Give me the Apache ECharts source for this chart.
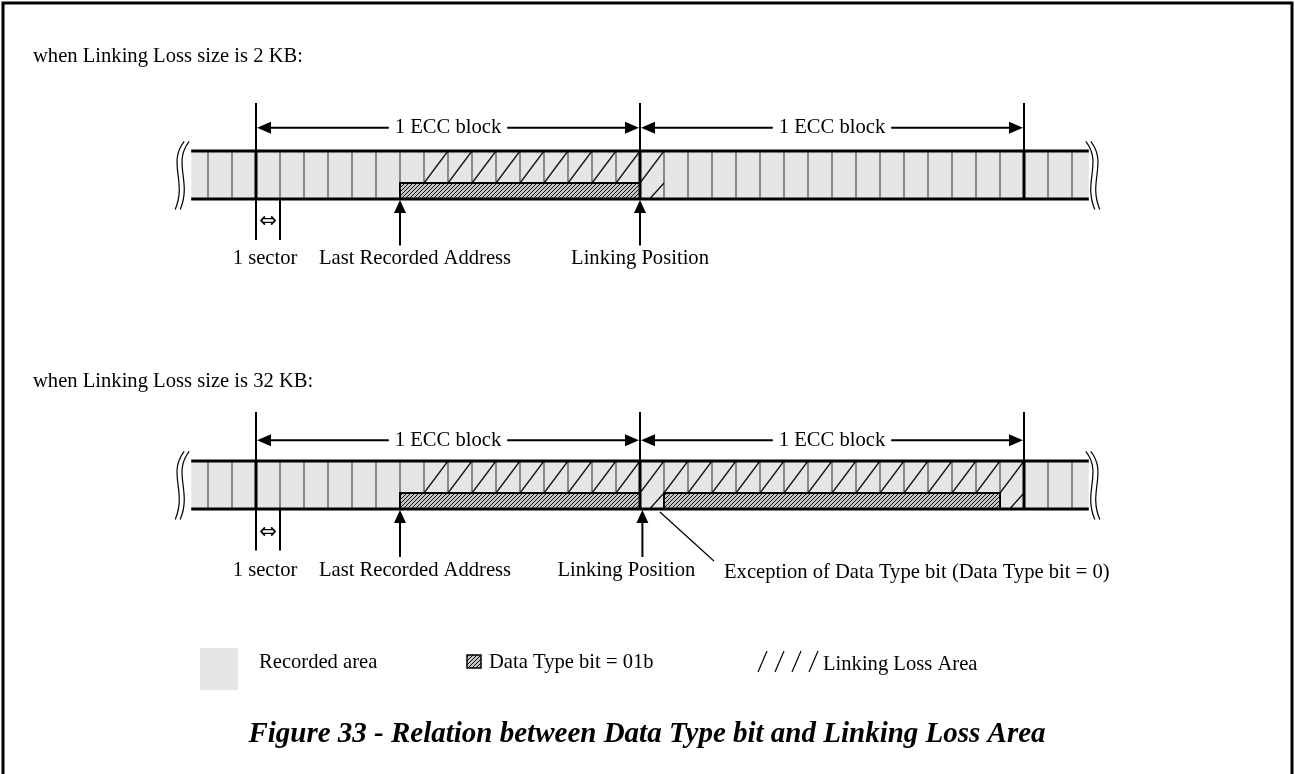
<!DOCTYPE html>
<html><head><meta charset="utf-8">
<script src="https://cdn.jsdelivr.net/npm/echarts@6/dist/echarts.min.js"></script>
<style>html,body{margin:0;padding:0;background:#fff}#c{width:1295px;height:774px}</style>
</head><body><div id="c"></div>
<script>
// ---------- DATA (x in sectors, 0 = first ECC block boundary; y in thirds of the strip height, 0 = strip bottom)
const titles = ['when Linking Loss size is 2 KB:', 'when Linking Loss size is 32 KB:'];
const stripExtent = [-2.7, 34.7];
const sectorLines = [-2,-1,1,2,3,4,5,6,7,8,9,10,11,12,13,14,15,17,18,19,20,21,22,23,24,25,26,27,28,29,30,31,33,34];
const eccBoundaries = [0,16,32];
const eccBlocks = [[0,16],[16,32]];
const eccBlockLabels = ['1 ECC block','1 ECC block'];
const dataTypeBars1 = [[6,16]];
const dataTypeBars2 = [[6,16],[17,31]];
const linkingUpper1 = [7,8,9,10,11,12,13,14,15];
const linkingFull1 = [16];
const linkingUpper2 = [7,8,9,10,11,12,13,14,15,17,18,19,20,21,22,23,24,25,26,27,28,29,30];
const linkingFull2 = [16,31];
const pointerX1 = [6,16];
const pointerX2 = [6,16.1];
const pointerLabels = ['Last Recorded Address','Linking Position'];
const sectorMark = [[0,1]];
const sectorMarkLabel = '1 sector';
const exceptionNote = 'Exception of Data Type bit (Data Type bit = 0)';
const legendLabels = ['Recorded area','Data Type bit = 01b','Linking Loss Area'];
const caption = 'Figure 33 - Relation between Data Type bit and Linking Loss Area';

// ---------- LAYOUT / STYLE
const FONT = 'Liberation Serif';
const FS = 20.6;
const layout = [
  {top:151, dimY:4.45, dimTop:6.0, ptrEnd:-2.9, labelY:-3.7, markEnd:-2.56, markArrowY:-1.44, titleY:57, ptrLabelDx:[15,0]},
  {top:461, dimY:4.3, dimTop:6.06, ptrEnd:-3.0, labelY:-3.85, markEnd:-2.6, markArrowY:-1.5, titleY:382, ptrLabelDx:[15,-16]}
];
const diagrams = [
  {bars:dataTypeBars1, upper:linkingUpper1, full:linkingFull1, ptr:pointerX1},
  {bars:dataTypeBars2, upper:linkingUpper2, full:linkingFull2, ptr:pointerX2}
];

function makeHatch(){
  const c=document.createElement('canvas'); c.width=4; c.height=4;
  const g=c.getContext('2d');
  g.fillStyle='#c4c4c4'; g.fillRect(0,0,4,4);
  g.strokeStyle='#111'; g.lineWidth=1;
  g.beginPath(); g.moveTo(0,4); g.lineTo(4,0); g.moveTo(-1,1); g.lineTo(1,-1); g.moveTo(3,5); g.lineTo(5,3); g.stroke();
  return c;
}
const hatch = {image: makeHatch(), repeat:'repeat'};

function L(p1,p2,w,c){return {type:'line',shape:{x1:p1[0],y1:p1[1],x2:p2[0],y2:p2[1]},style:{stroke:c||'#000',lineWidth:w}};}
function T(text,x,y,opt){return {type:'text',style:Object.assign({text:text,x:x,y:y,fontFamily:FONT,fontSize:FS,fill:'#000',align:'center',verticalAlign:'middle'},opt||{})};}

function cs(d, data, render){
  return {type:'custom', coordinateSystem:'cartesian2d', xAxisIndex:d, yAxisIndex:d, clip:false, silent:true, animation:false, data:data, renderItem:render};
}

const series = [];
diagrams.forEach((D,d)=>{
  const Ly = layout[d];
  series.push(cs(d,[stripExtent],(p,api)=>{
    const a=api.coord([api.value(0),3]), b=api.coord([api.value(1),0]);
    return {type:'rect',shape:{x:a[0],y:a[1],width:b[0]-a[0],height:b[1]-a[1]},style:{fill:'#e6e6e6'}};
  }));
  series.push(cs(d,sectorLines.map(v=>[v]),(p,api)=>{
    const x=api.value(0); return L(api.coord([x,0]),api.coord([x,3]),2,'#888');
  }));
  series.push(cs(d,D.upper.map(v=>[v]),(p,api)=>{
    const s=api.value(0); return L(api.coord([s,1]),api.coord([s+1,3]),1.3,'#111');
  }));
  series.push(cs(d,D.full.map(v=>[v]),(p,api)=>{
    const s=api.value(0);
    return {type:'group',children:[L(api.coord([s,1]),api.coord([s+1,3]),1.3,'#111'),L(api.coord([s+0.4,0]),api.coord([s+1,1]),1.3,'#111')]};
  }));
  series.push(cs(d,D.bars,(p,api)=>{
    const a=api.coord([api.value(0),1]), b=api.coord([api.value(1),0]);
    return {type:'rect',shape:{x:a[0],y:a[1],width:b[0]-a[0],height:b[1]-a[1]},style:{fill:hatch,stroke:'#000',lineWidth:2}};
  }));
  series.push(cs(d,[stripExtent],(p,api)=>{
    const x0=api.value(0), x1=api.value(1);
    return {type:'group',children:[L(api.coord([x0,3]),api.coord([x1,3]),3),L(api.coord([x0,0]),api.coord([x1,0]),3)]};
  }));
  series.push(cs(d,eccBoundaries.map(v=>[v]),(p,api)=>{
    const x=api.value(0);
    return {type:'group',children:[L(api.coord([x,-0.05]),api.coord([x,3.05]),3),L(api.coord([x,3]),api.coord([x,Ly.dimTop]),2)]};
  }));
  series.push(cs(d,eccBlocks,(p,api)=>{
    const a=api.coord([api.value(0),Ly.dimY]), b=api.coord([api.value(1),Ly.dimY]);
    const m=(a[0]+b[0])/2, y=a[1];
    return {type:'group',children:[
      L([a[0]+12,y],[b[0]-12,y],2),
      {type:'polygon',shape:{points:[[a[0]+1,y],[a[0]+15,y-6],[a[0]+15,y+6]]},style:{fill:'#000'}},
      {type:'polygon',shape:{points:[[b[0]-1,y],[b[0]-15,y-6],[b[0]-15,y+6]]},style:{fill:'#000'}},
      T(eccBlockLabels[p.dataIndex],m,y,{backgroundColor:'#fff',padding:[0,6]})
    ]};
  }));
  series.push(cs(d,D.ptr.map(v=>[v]),(p,api)=>{
    const x=api.value(0);
    const tip=api.coord([x,0]), end=api.coord([x,Ly.ptrEnd]), lab=api.coord([x,Ly.labelY]);
    return {type:'group',children:[
      {type:'polygon',shape:{points:[[tip[0],tip[1]+1],[tip[0]-6,tip[1]+14],[tip[0]+6,tip[1]+14]]},style:{fill:'#000'}},
      L([tip[0],tip[1]+10],end,2),
      T(pointerLabels[p.dataIndex],lab[0]+Ly.ptrLabelDx[p.dataIndex],lab[1])
    ]};
  }));
  series.push(cs(d,sectorMark,(p,api)=>{
    const x0=api.value(0), x1=api.value(1);
    const a0=api.coord([x0,0]), a1=api.coord([x0,Ly.markEnd]), b0=api.coord([x1,0]), b1=api.coord([x1,Ly.markEnd]);
    const ar=api.coord([(x0+x1)/2,Ly.markArrowY]), lab=api.coord([(x0+x1)/2,Ly.labelY]);
    return {type:'group',children:[
      L(a0,a1,2), L(b0,b1,2),
      T('\u21D4',ar[0],ar[1],{fontFamily:'DejaVu Sans',fontSize:21}),
      T(sectorMarkLabel,lab[0]-3,lab[1])
    ]};
  }));
  series.push(cs(d,[[stripExtent[0]-0.5],[stripExtent[1]+0.5]],(p,api)=>{
    const x=api.value(0);
    const top=api.coord([x,3.6]), bot=api.coord([x,-0.65]);
    const cx=top[0], t=top[1], b=bot[1], dir=p.dataIndex===0?1:-1;
    const kids=[];
    [0,5].forEach(o=>{
      const ox=cx+o*dir - (dir<0?5:0);
      kids.push({type:'bezierCurve',shape:{x1:ox+5*dir,y1:t,cpx1:ox-12*dir,cpy1:t+22,cpx2:ox+8*dir,cpy2:b-28,x2:ox-4*dir,y2:b},style:{stroke:'#000',lineWidth:1.2,fill:null}});
    });
    return {type:'group',children:kids};
  }));
  series.push(cs(d,[[0]],(p,api)=>T(titles[d],33,Ly.titleY,{align:'left'})));
});

series.push(cs(1,[[16.83]],(p,api)=>{
  const x=api.value(0);
  const a=api.coord([x,-0.19]), b=api.coord([19.08,-3.25]), lab=api.coord([19.5,-4.0]);
  return {type:'group',children:[L(a,b,1.2),T(exceptionNote,lab[0],lab[1],{align:'left'})]};
}));

const chart = echarts.init(document.getElementById('c'),null,{renderer:'canvas'});
chart.setOption({
  backgroundColor:'#fff',
  animation:false,
  grid:[
    {left:0,right:0,top:layout[0].top,height:48},
    {left:0,right:0,top:layout[1].top,height:48}
  ],
  xAxis:[0,1].map(i=>({type:'value',gridIndex:i,min:-256/24,max:(1295-256)/24,show:false})),
  yAxis:[0,1].map(i=>({type:'value',gridIndex:i,min:0,max:3,show:false})),
  series:series,
  graphic:[
    {type:'polyline',shape:{points:[[3,780],[3,3],[1292,3],[1292,780]]},style:{stroke:'#000',lineWidth:3,fill:null},silent:true},
    {type:'rect',shape:{x:200,y:648,width:38,height:42},style:{fill:'#e6e6e6'},silent:true},
    {type:'text',style:{text:legendLabels[0],x:259,y:663,fontFamily:FONT,fontSize:FS,fill:'#000',verticalAlign:'middle'},silent:true},
    {type:'rect',shape:{x:467,y:655,width:14,height:13},style:{fill:hatch,stroke:'#000',lineWidth:1.5},silent:true},
    {type:'text',style:{text:legendLabels[1],x:489,y:663,fontFamily:FONT,fontSize:FS,fill:'#000',verticalAlign:'middle'},silent:true},
    {type:'group',silent:true,children:[0,1,2,3].map(i=>({type:'line',shape:{x1:758+i*17,y1:672,x2:767+i*17,y2:651},style:{stroke:'#000',lineWidth:1.2}}))},
    {type:'text',style:{text:legendLabels[2],x:823,y:665,fontFamily:FONT,fontSize:FS,fill:'#000',verticalAlign:'middle'},silent:true},
    {type:'text',style:{text:caption,x:647,y:735,fontFamily:FONT,fontSize:29,fontWeight:'bold',fontStyle:'italic',fill:'#000',align:'center',verticalAlign:'middle'},silent:true}
  ]
});
</script></body></html>
